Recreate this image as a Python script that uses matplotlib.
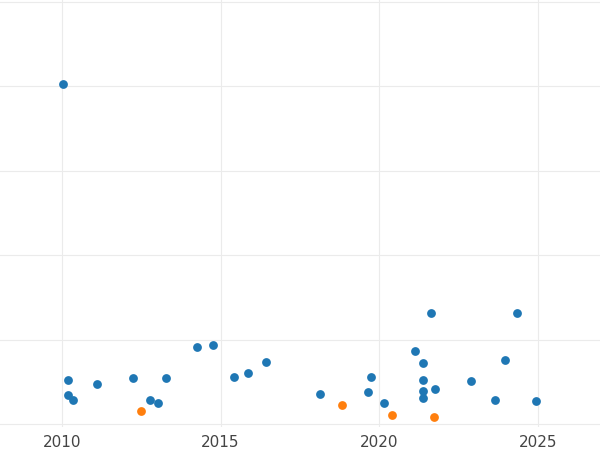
import matplotlib
matplotlib.use("Agg")
import matplotlib.pyplot as plt

blue_x = [2010.03, 2010.19, 2010.19, 2010.35, 2011.1, 2012.24, 2012.77, 2013.03, 2013.28, 2014.26,
          2014.76, 2015.42, 2015.86, 2016.43, 2018.13, 2019.65, 2019.74, 2020.15, 2021.12, 2021.38,
          2021.38, 2021.38, 2021.38, 2021.63, 2021.76, 2022.89, 2023.65, 2023.97, 2024.34, 2024.94]
blue_y = [4.02, 0.52, 0.34, 0.29, 0.47, 0.54, 0.29, 0.25, 0.54, 0.91,
          0.94, 0.56, 0.60, 0.74, 0.36, 0.38, 0.56, 0.25, 0.87, 0.72,
          0.52, 0.39, 0.31, 1.32, 0.42, 0.51, 0.29, 0.76, 1.32, 0.27]
orange_x = [2012.49, 2018.82, 2020.40, 2021.73]
orange_y = [0.15, 0.22, 0.11, 0.08]
xticks = [2010, 2015, 2020, 2025]

fig = plt.figure(figsize=(6, 4.5), dpi=100)
ax = fig.add_axes([0, 23/450, 1, 1 - 23/450])
ax.scatter(blue_x, blue_y, s=40, color="#1f77b4", zorder=3, linewidths=0)
ax.scatter(orange_x, orange_y, s=40, color="#ff7f0e", zorder=3, linewidths=0)
ax.set_xlim(2008.05, 2026.96)
ax.set_ylim(-0.035, 5.02)
ax.set_xticks(xticks)
ax.set_xticklabels([str(t) for t in xticks])
ax.set_yticks([0, 1, 2, 3, 4, 5])
ax.set_yticklabels([])
ax.tick_params(length=0, labelsize=11, labelcolor="#444444", pad=6)
ax.tick_params(axis="y", left=False)
ax.grid(True, color="#ebebeb", linewidth=0.8)
ax.set_axisbelow(True)
for s in ax.spines.values():
    s.set_visible(False)
fig.savefig("out.png", dpi=100)
